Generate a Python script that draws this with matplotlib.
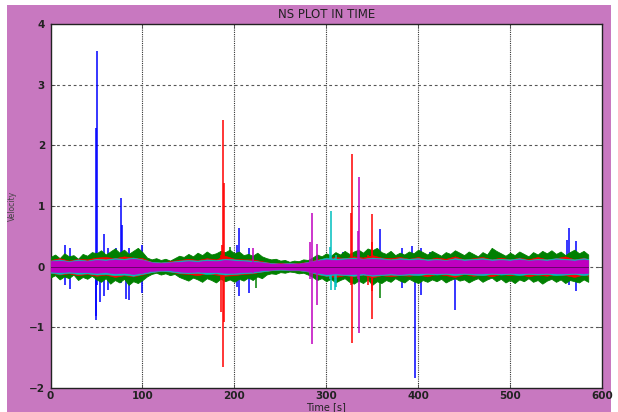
import numpy as np
import matplotlib
matplotlib.use("Agg")
import matplotlib.pyplot as plt
from matplotlib.patches import Rectangle

# --- noise envelopes ---
# green band, one value every 5 s (0 ... 585 s)
green_upper = [0.16, 0.20, 0.14, 0.22, 0.17, 0.19, 0.13, 0.21, 0.18, 0.24,
               0.22, 0.27, 0.20, 0.25, 0.30, 0.23, 0.28, 0.21, 0.26, 0.31,
               0.24, 0.15, 0.12, 0.14, 0.11, 0.13, 0.10, 0.14, 0.18, 0.16,
               0.21, 0.17, 0.23, 0.19, 0.25, 0.20, 0.22, 0.26, 0.24, 0.28,
               0.22, 0.25, 0.19, 0.21, 0.18, 0.23, 0.17, 0.14, 0.12, 0.13,
               0.10, 0.11, 0.08, 0.10, 0.09, 0.12, 0.11, 0.15, 0.20, 0.17,
               0.22, 0.18, 0.24, 0.20, 0.26, 0.21, 0.25, 0.28, 0.23, 0.30,
               0.27, 0.31, 0.24, 0.21, 0.26, 0.19, 0.23, 0.20, 0.25, 0.22,
               0.28, 0.24, 0.20, 0.26, 0.22, 0.18, 0.24, 0.21, 0.27, 0.23,
               0.19, 0.25, 0.21, 0.17, 0.24, 0.20, 0.31, 0.26, 0.22, 0.18,
               0.23, 0.19, 0.25, 0.21, 0.17, 0.24, 0.20, 0.26, 0.22, 0.27,
               0.21, 0.25, 0.19, 0.24, 0.28, 0.22, 0.26, 0.20]
green_lower = [-0.18, -0.14, -0.21, -0.16, -0.19, -0.13, -0.22, -0.17, -0.20, -0.15,
               -0.21, -0.25, -0.19, -0.28, -0.22, -0.26, -0.20, -0.30, -0.24, -0.27,
               -0.22, -0.16, -0.12, -0.10, -0.13, -0.11, -0.14, -0.12, -0.17, -0.20,
               -0.23, -0.18, -0.21, -0.25, -0.19, -0.22, -0.26, -0.20, -0.24, -0.21,
               -0.25, -0.20, -0.23, -0.18, -0.22, -0.16, -0.19, -0.13, -0.11, -0.12,
               -0.09, -0.10, -0.08, -0.09, -0.11, -0.10, -0.13, -0.17, -0.22, -0.19,
               -0.24, -0.20, -0.26, -0.22, -0.19, -0.25, -0.28, -0.23, -0.27, -0.21,
               -0.30, -0.24, -0.27, -0.22, -0.25, -0.19, -0.23, -0.26, -0.20, -0.24,
               -0.27, -0.22, -0.25, -0.21, -0.24, -0.20, -0.26, -0.22, -0.19, -0.23,
               -0.21, -0.26, -0.22, -0.19, -0.25, -0.21, -0.18, -0.24, -0.20, -0.26,
               -0.22, -0.27, -0.21, -0.24, -0.19, -0.25, -0.22, -0.28, -0.23, -0.20,
               -0.25, -0.21, -0.27, -0.22, -0.24, -0.26, -0.21, -0.25]

# red / cyan / magenta bands, one value every 10 s (0 ... 580 s, then 585 s)
red_upper = [0.11, 0.14, 0.10, 0.13, 0.12, 0.15, 0.16, 0.14, 0.17, 0.15,
             0.14, 0.08, 0.07, 0.09, 0.11, 0.13, 0.11, 0.14, 0.12, 0.18,
             0.13, 0.12, 0.12, 0.09, 0.06, 0.06, 0.06, 0.06, 0.08, 0.12,
             0.14, 0.16, 0.14, 0.17, 0.15, 0.19, 0.15, 0.14, 0.16, 0.13,
             0.16, 0.12, 0.15, 0.13, 0.17, 0.12, 0.14, 0.16, 0.12, 0.15,
             0.12, 0.15, 0.12, 0.16, 0.12, 0.14, 0.17, 0.12, 0.15, 0.12]
red_lower = [-0.10, -0.13, -0.11, -0.14, -0.12, -0.15, -0.13, -0.17, -0.14, -0.16,
             -0.13, -0.09, -0.07, -0.08, -0.11, -0.12, -0.14, -0.11, -0.13, -0.15,
             -0.14, -0.12, -0.11, -0.08, -0.06, -0.05, -0.06, -0.06, -0.08, -0.13,
             -0.15, -0.17, -0.14, -0.16, -0.13, -0.18, -0.14, -0.16, -0.14, -0.15,
             -0.13, -0.16, -0.12, -0.14, -0.17, -0.12, -0.15, -0.13, -0.16, -0.12,
             -0.14, -0.12, -0.16, -0.13, -0.15, -0.12, -0.14, -0.17, -0.13, -0.15]
cyan_upper = [0.10, 0.12, 0.09, 0.12, 0.10, 0.13, 0.12, 0.14, 0.13, 0.15,
              0.12, 0.08, 0.07, 0.08, 0.10, 0.11, 0.10, 0.12, 0.11, 0.13,
              0.12, 0.11, 0.10, 0.08, 0.06, 0.05, 0.06, 0.05, 0.08, 0.11,
              0.15, 0.13, 0.14, 0.15, 0.13, 0.15, 0.14, 0.12, 0.14, 0.13,
              0.14, 0.12, 0.13, 0.11, 0.14, 0.12, 0.13, 0.14, 0.12, 0.13,
              0.12, 0.14, 0.11, 0.13, 0.12, 0.14, 0.13, 0.12, 0.14, 0.13]
cyan_lower = [-0.10, -0.12, -0.10, -0.12, -0.11, -0.13, -0.12, -0.14, -0.13, -0.15,
              -0.12, -0.09, -0.07, -0.08, -0.10, -0.11, -0.10, -0.12, -0.11, -0.13,
              -0.12, -0.11, -0.10, -0.08, -0.06, -0.05, -0.06, -0.06, -0.08, -0.12,
              -0.15, -0.13, -0.14, -0.15, -0.13, -0.15, -0.14, -0.13, -0.14, -0.13,
              -0.14, -0.12, -0.13, -0.12, -0.14, -0.12, -0.13, -0.14, -0.12, -0.13,
              -0.12, -0.14, -0.12, -0.13, -0.12, -0.14, -0.13, -0.12, -0.14, -0.13]
magenta_upper = [0.09, 0.10, 0.08, 0.10, 0.09, 0.11, 0.10, 0.12, 0.11, 0.13,
                 0.11, 0.07, 0.06, 0.07, 0.08, 0.09, 0.08, 0.10, 0.09, 0.11,
                 0.10, 0.09, 0.08, 0.07, 0.05, 0.05, 0.05, 0.05, 0.07, 0.10,
                 0.12, 0.11, 0.12, 0.13, 0.12, 0.13, 0.12, 0.11, 0.12, 0.11,
                 0.12, 0.10, 0.11, 0.10, 0.12, 0.10, 0.11, 0.12, 0.10, 0.11,
                 0.10, 0.12, 0.10, 0.11, 0.10, 0.12, 0.11, 0.10, 0.12, 0.11]
magenta_lower = [-0.08, -0.09, -0.08, -0.09, -0.09, -0.10, -0.09, -0.11, -0.10, -0.12,
                 -0.10, -0.07, -0.06, -0.06, -0.08, -0.09, -0.08, -0.09, -0.09, -0.10,
                 -0.10, -0.09, -0.08, -0.06, -0.05, -0.04, -0.05, -0.05, -0.07, -0.10,
                 -0.12, -0.11, -0.12, -0.12, -0.11, -0.13, -0.12, -0.11, -0.12, -0.11,
                 -0.11, -0.10, -0.11, -0.10, -0.11, -0.10, -0.11, -0.11, -0.10, -0.11,
                 -0.10, -0.11, -0.10, -0.11, -0.10, -0.11, -0.11, -0.10, -0.11, -0.10]

# --- spikes: time [s], lowest value, highest value ---
blue_t = [15.8, 21.2, 49.2, 49.8, 50.3, 53.5, 58.2, 62.2, 71.3, 77.2, 77.8, 82.2, 85.8, 99.6,
          202.6, 204.8, 216.3, 223.6, 318.0, 358.5, 382.0, 393.7, 396.3, 403.0, 413.0,
          440.5, 562.0, 564.0, 571.8]
blue_lo = [-0.30, -0.37, -0.82, -0.88, -0.30, -0.58, -0.48, -0.38, -0.20, -0.27, -0.15, -0.53, -0.55, -0.44,
           -0.33, -0.49, -0.43, -0.12, -0.15, -0.20, -0.35, -0.15, -1.84, -0.47, -0.20,
           -0.72, -0.20, -0.30, -0.40]
blue_hi = [0.36, 0.30, 0.10, 2.29, 3.56, 0.15, 0.54, 0.30, 0.30, 1.14, 0.68, 0.12, 0.30, 0.35,
           0.35, 0.63, 0.30, 0.20, 0.25, 0.62, 0.30, 0.34, 0.15, 0.30, 0.25,
           0.10, 0.44, 0.63, 0.43]

green_t = [195.0, 224.0, 358.5]
green_lo = [-0.20, -0.35, -0.52]
green_hi = [0.33, 0.15, 0.20]

red_t = [185.2, 186.5, 188.0, 188.8, 327.0, 327.7, 345.5, 349.5, 349.8]
red_lo = [-0.75, -0.20, -1.66, -0.91, -0.30, -1.25, -0.30, -0.40, -0.87]
red_hi = [0.20, 0.35, 2.41, 1.38, 0.88, 1.86, 0.20, 0.40, 0.87]

cyan_t = [304.5, 305.0, 309.6, 311.0]
cyan_lo = [-0.20, -0.38, -0.39, -0.33]
cyan_hi = [0.33, 0.91, 0.15, 0.20]

magenta_t = [220.0, 282.0, 284.2, 289.6, 334.0, 335.7]
magenta_lo = [-0.10, -0.20, -1.28, -0.63, -0.20, -1.10]
magenta_hi = [0.30, 0.40, 0.89, 0.37, 0.58, 1.48]

t_fine = np.arange(0, 590, 5)
t_coarse = np.r_[np.arange(0, 590, 10), 585]

BLUE = "#0000FF"
GREEN = "#008000"
RED = "#FF0000"
CYAN = "#00BFBF"
MAGENTA = "#BF00BF"
FRAME = "#C878C0"

plt.rcParams["font.family"] = "DejaVu Sans"

fig = plt.figure(figsize=(6.18, 4.12), dpi=100)
fig.patch.set_facecolor("white")
fig.patches.append(Rectangle((7 / 618, 0), 604 / 618, 407 / 412, transform=fig.transFigure,
                             facecolor=FRAME, edgecolor="none", zorder=-10))

ax = fig.add_axes([50.5 / 618, 1 - 388 / 412, 551.5 / 618, 364 / 412])
ax.set_facecolor("white")

# signals, in the order they were plotted (b, g, r, c, m)
ax.vlines(blue_t, blue_lo, blue_hi, color=BLUE, lw=1.1, zorder=2)

ax.fill_between(t_fine, green_lower, green_upper, color=GREEN, lw=0.6, zorder=3)
ax.vlines(green_t, green_lo, green_hi, color=GREEN, lw=1.1, zorder=3)

ax.fill_between(t_coarse, red_lower, red_upper, color=RED, lw=0.4, zorder=4)
ax.vlines(red_t, red_lo, red_hi, color=RED, lw=1.1, zorder=4)

ax.fill_between(t_coarse, cyan_lower, cyan_upper, color=CYAN, lw=0.4, zorder=5)
ax.vlines(cyan_t, cyan_lo, cyan_hi, color=CYAN, lw=1.1, zorder=5)

ax.fill_between(t_coarse, magenta_lower, magenta_upper, color=MAGENTA, lw=0.5, zorder=6)
ax.vlines(magenta_t, magenta_lo, magenta_hi, color=MAGENTA, lw=1.1, zorder=6)

ax.plot([0, 585], [0, 0], color="#6A006A", lw=0.7, zorder=7)

ax.set_xlim(0, 600)
ax.set_ylim(-2, 4)
ax.set_xticks(range(0, 601, 100))
ax.set_yticks(range(-2, 5))

for x in range(100, 600, 100):
    ax.axvline(x, color="#333333", lw=0.8, ls=(0, (1, 1)), zorder=1)
for y in range(-1, 4):
    ax.axhline(y, color="#555555", lw=0.8, ls=(0, (2.5, 2.5)), zorder=1)

ax.tick_params(direction="in", length=3, width=0.6, color="#444444", top=True, right=True,
               labelsize=7.5)
ax.tick_params(axis="x", pad=2)
ax.tick_params(axis="y", pad=4)
for lab in ax.get_xticklabels() + ax.get_yticklabels():
    lab.set_fontweight("bold")
    lab.set_color("#222222")
for s in ax.spines.values():
    s.set_linewidth(1.0)
    s.set_color("#222222")

ax.set_title("NS PLOT IN TIME", fontsize=8.5, color="#222222", pad=4)
ax.set_xlabel("Time [s]", fontsize=7, color="#222222")
ax.xaxis.set_label_coords(0.5, (388 - 402) / 364)
ax.set_ylabel("Velocity", fontsize=5.5, color="#444444")
ax.yaxis.set_label_coords((17 - 50.5) / 551.5, 0.5)

fig.savefig("out.png", dpi=100, facecolor=fig.get_facecolor())
